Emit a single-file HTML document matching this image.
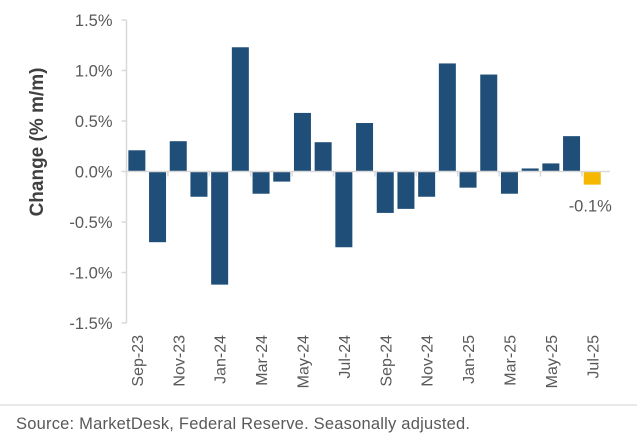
<!DOCTYPE html>
<html><head><meta charset="utf-8"><style>
body{margin:0;background:#fff;width:637px;height:439px;overflow:hidden;font-family:"Liberation Sans",sans-serif}
</style></head><body>
<svg id="chart" width="637" height="439" xmlns="http://www.w3.org/2000/svg" font-family="Liberation Sans, sans-serif">
<line x1="0" y1="405" x2="637" y2="405" stroke="#d0d0d0" stroke-width="1"/>
<text x="16" y="429" font-size="16.5" fill="#595959" textLength="454">Source: MarketDesk, Federal Reserve. Seasonally adjusted.</text>
<text transform="translate(43,142) rotate(-90)" text-anchor="middle" font-size="19" font-weight="bold" fill="#404040">Change (% m/m)</text>
<g id="plot"></g>
</svg>
<script>
const categories=["Sep-23","Oct-23","Nov-23","Dec-23","Jan-24","Feb-24","Mar-24","Apr-24","May-24","Jun-24","Jul-24","Aug-24","Sep-24","Oct-24","Nov-24","Dec-24","Jan-25","Feb-25","Mar-25","Apr-25","May-25","Jun-25","Jul-25"];
const values=[0.21,-0.70,0.30,-0.25,-1.12,1.23,-0.22,-0.10,0.58,0.29,-0.75,0.48,-0.41,-0.37,-0.25,1.07,-0.16,0.96,-0.22,0.03,0.08,0.35,-0.13];
const yTicks=[1.5,1.0,0.5,0.0,-0.5,-1.0,-1.5];
const yTickLabels=["1.5%","1.0%","0.5%","0.0%","-0.5%","-1.0%","-1.5%"];
const lastLabel="-0.1%";
const NS="http://www.w3.org/2000/svg";
const g=document.getElementById('plot');
const x0=126.5,step=20.7,bw=17;
const yMin=-1.5,yMax=1.5,yTop=20,yBot=323;
function y(v){return yBot-(v-yMin)/(yMax-yMin)*(yBot-yTop);}
function xc(i){return x0+step*(i+0.5);}
function mk(tag,attrs){const e=document.createElementNS(NS,tag);for(const k in attrs)e.setAttribute(k,attrs[k]);g.appendChild(e);return e;}
let ax=mk('line',{x1:x0,y1:y(1.5),x2:x0,y2:y(-1.5),stroke:'#d9d9d9','stroke-width':1.5});


yTicks.forEach((t,i)=>{
  const tk=mk('line',{x1:x0-5,y1:y(t),x2:x0,y2:y(t),stroke:'#d9d9d9','stroke-width':1.5});
  
  
  const tx=mk('text',{x:x0-14,y:y(t)+6,'text-anchor':'end','font-size':16.5,fill:'#595959'});
  tx.textContent=yTickLabels[i];
  
  
});
values.forEach((v,i)=>{
  const last=i===values.length-1;
  const r=mk('rect',{x:xc(i)-bw/2,y:Math.min(y(v),y(0)),width:bw,height:Math.abs(y(v)-y(0)),fill:last?'#f5b800':'#1f4e79'});
  
  
});
let zl=mk('line',{x1:x0,y1:y(0),x2:610,y2:y(0),stroke:'#d9d9d9','stroke-width':1.5});


categories.forEach((c,i)=>{
  if(i%2===0){
    const tk=mk('line',{x1:x0+step*i,y1:y(0),x2:x0+step*i,y2:y(0)+5,stroke:'#d9d9d9','stroke-width':1.5});
    
    
    const tx=mk('text',{transform:`translate(${xc(i)+6},335) rotate(-90)`,'text-anchor':'end','font-size':16,fill:'#595959'});
    tx.textContent=c;
    
    
  }
});
const li=values.length-1;
const lbl=mk('text',{x:xc(li)-2,y:y(values[li])+27,'text-anchor':'middle','font-size':16.5,fill:'#595959'});
lbl.textContent=lastLabel;


</script>
</body></html>
